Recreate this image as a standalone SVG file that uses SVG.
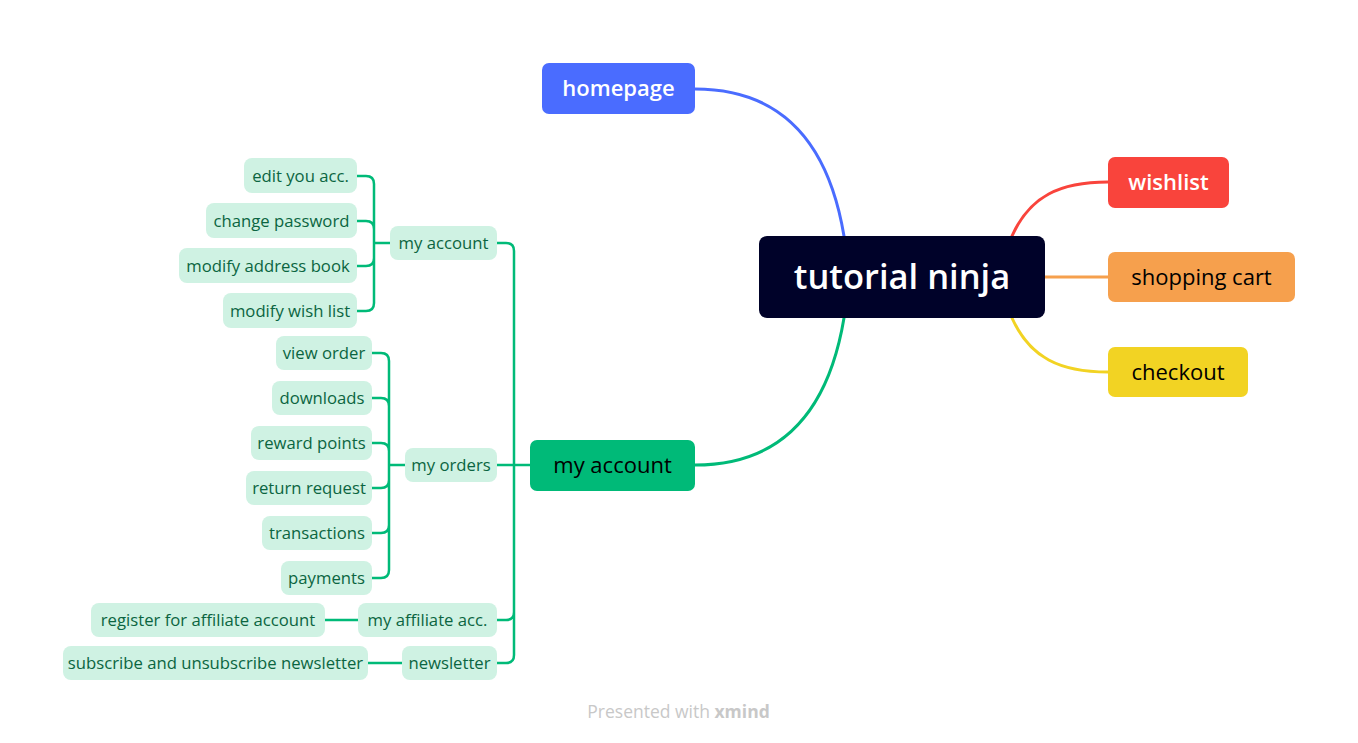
<svg xmlns="http://www.w3.org/2000/svg" width="1358" height="743" viewBox="0 0 1358 743">
<style>
text{font-family:"Open Sans","Noto Sans","Liberation Sans",sans-serif;text-anchor:middle}
.sub rect{fill:#CFF2E3}
.sub text{font-size:16.7px;fill:#0B6541}
.l1 text{font-size:22px}
.c{fill:none;stroke-linecap:round;stroke-linejoin:round}
.g{stroke:#00BA78;stroke-width:2.5}
</style>
<rect width="1358" height="743" fill="#FFFFFF"/>
<g id="connectors">
<path class="c" stroke="#4A6CFF" stroke-width="3" d="M695,89 C780,89 828,140 844,236"/>
<path class="c" stroke="#00BA78" stroke-width="3" d="M844,318 C828,414 780,465 695,465"/>
<path class="c" stroke="#F9443C" stroke-width="3" d="M1012,236 C1030,196 1060,182 1108,182"/>
<path class="c" stroke="#F6A04D" stroke-width="3" d="M1045,277 H1108"/>
<path class="c" stroke="#F2D323" stroke-width="3" d="M1012,318 C1030,358 1060,372 1108,372"/>
<path class="c g" d="M357,176 H366 Q374,176 374,184 V243 M357,221 H366 Q374,221 374,229 V243 M357,266 H366 Q374,266 374,258 V243 M357,311 H366 Q374,311 374,303 V243 M374,243 H390"/>
<path class="c g" d="M372,353 H381 Q389,353 389,361 V465 M372,398 H381 Q389,398 389,406 V465 M372,443 H381 Q389,443 389,451 V465 M372,488 H381 Q389,488 389,480 V465 M372,533 H381 Q389,533 389,525 V465 M372,578 H381 Q389,578 389,570 V465 M389,465 H405"/>
<path class="c g" d="M497,243 H506 Q514,243 514,251 V465 M497,465 H530 M497,620 H506 Q514,620 514,612 V465 M497,663 H506 Q514,663 514,655 V465"/>
<path class="c g" d="M325,620 H358 M368,663 H402"/>
</g>
<g id="central"><rect x="759" y="236" width="286" height="82" rx="8" fill="#000229"/><text x="902" y="289" font-size="34.5" font-weight="600" fill="#FFFFFF">tutorial ninja</text></g>
<g id="homepage" class="l1"><rect x="542" y="63" width="153" height="51" rx="7" fill="#4A6CFF"/><text x="618.5" y="96" font-weight="600" fill="#FFFFFF">homepage</text></g>
<g id="my-account" class="l1"><rect x="530" y="440" width="165" height="51" rx="7" fill="#00BA78"/><text x="612.5" y="473" fill="#000000">my account</text></g>
<g id="wishlist" class="l1"><rect x="1108" y="157" width="121" height="51" rx="7" fill="#F9443C"/><text x="1168.5" y="190" font-weight="600" fill="#FFFFFF">wishlist</text></g>
<g id="shopping-cart" class="l1"><rect x="1108" y="252" width="187" height="50" rx="7" fill="#F6A04D"/><text x="1201.5" y="285" font-size="23" fill="#000000">shopping cart</text></g>
<g id="checkout" class="l1"><rect x="1108" y="347" width="140" height="50" rx="7" fill="#F2D323"/><text x="1178" y="380" fill="#000000">checkout</text></g>
<g id="edit-you-acc" class="sub"><rect x="244" y="158" width="113" height="35" rx="8"/><text x="300.5" y="181.5">edit you acc.</text></g>
<g id="change-password" class="sub"><rect x="206" y="203" width="151" height="35" rx="8"/><text x="281.5" y="226.5">change password</text></g>
<g id="modify-address-book" class="sub"><rect x="179" y="248" width="178" height="35" rx="8"/><text x="268" y="271.5">modify address book</text></g>
<g id="modify-wish-list" class="sub"><rect x="223" y="293" width="134" height="35" rx="8"/><text x="290" y="316.5">modify wish list</text></g>
<g id="my-account-sub" class="sub"><rect x="390" y="226" width="107" height="34" rx="8"/><text x="443.5" y="249">my account</text></g>
<g id="view-order" class="sub"><rect x="276" y="336" width="96" height="34" rx="8"/><text x="324" y="359">view order</text></g>
<g id="downloads" class="sub"><rect x="272" y="381" width="100" height="34" rx="8"/><text x="322" y="404">downloads</text></g>
<g id="reward-points" class="sub"><rect x="251" y="426" width="121" height="34" rx="8"/><text x="311.5" y="449">reward points</text></g>
<g id="return-request" class="sub"><rect x="246" y="471" width="126" height="34" rx="8"/><text x="309" y="494">return request</text></g>
<g id="transactions" class="sub"><rect x="262" y="516" width="110" height="34" rx="8"/><text x="317" y="539">transactions</text></g>
<g id="payments" class="sub"><rect x="281" y="561" width="91" height="34" rx="8"/><text x="326.5" y="584">payments</text></g>
<g id="my-orders" class="sub"><rect x="405" y="448" width="92" height="34" rx="8"/><text x="451" y="471">my orders</text></g>
<g id="register-affiliate" class="sub"><rect x="91" y="603" width="234" height="34" rx="8"/><text x="208" y="626">register for affiliate account</text></g>
<g id="my-affiliate" class="sub"><rect x="358" y="603" width="139" height="34" rx="8"/><text x="427.5" y="626">my affiliate acc.</text></g>
<g id="subscribe" class="sub"><rect x="63" y="646" width="305" height="34" rx="8"/><text x="215.5" y="669">subscribe and unsubscribe newsletter</text></g>
<g id="newsletter" class="sub"><rect x="402" y="646" width="95" height="34" rx="8"/><text x="449.5" y="669">newsletter</text></g>
<text x="678.5" y="718" font-size="17.5" fill="#C8C8C8">Presented with <tspan font-weight="700">xmind</tspan></text>
</svg>
